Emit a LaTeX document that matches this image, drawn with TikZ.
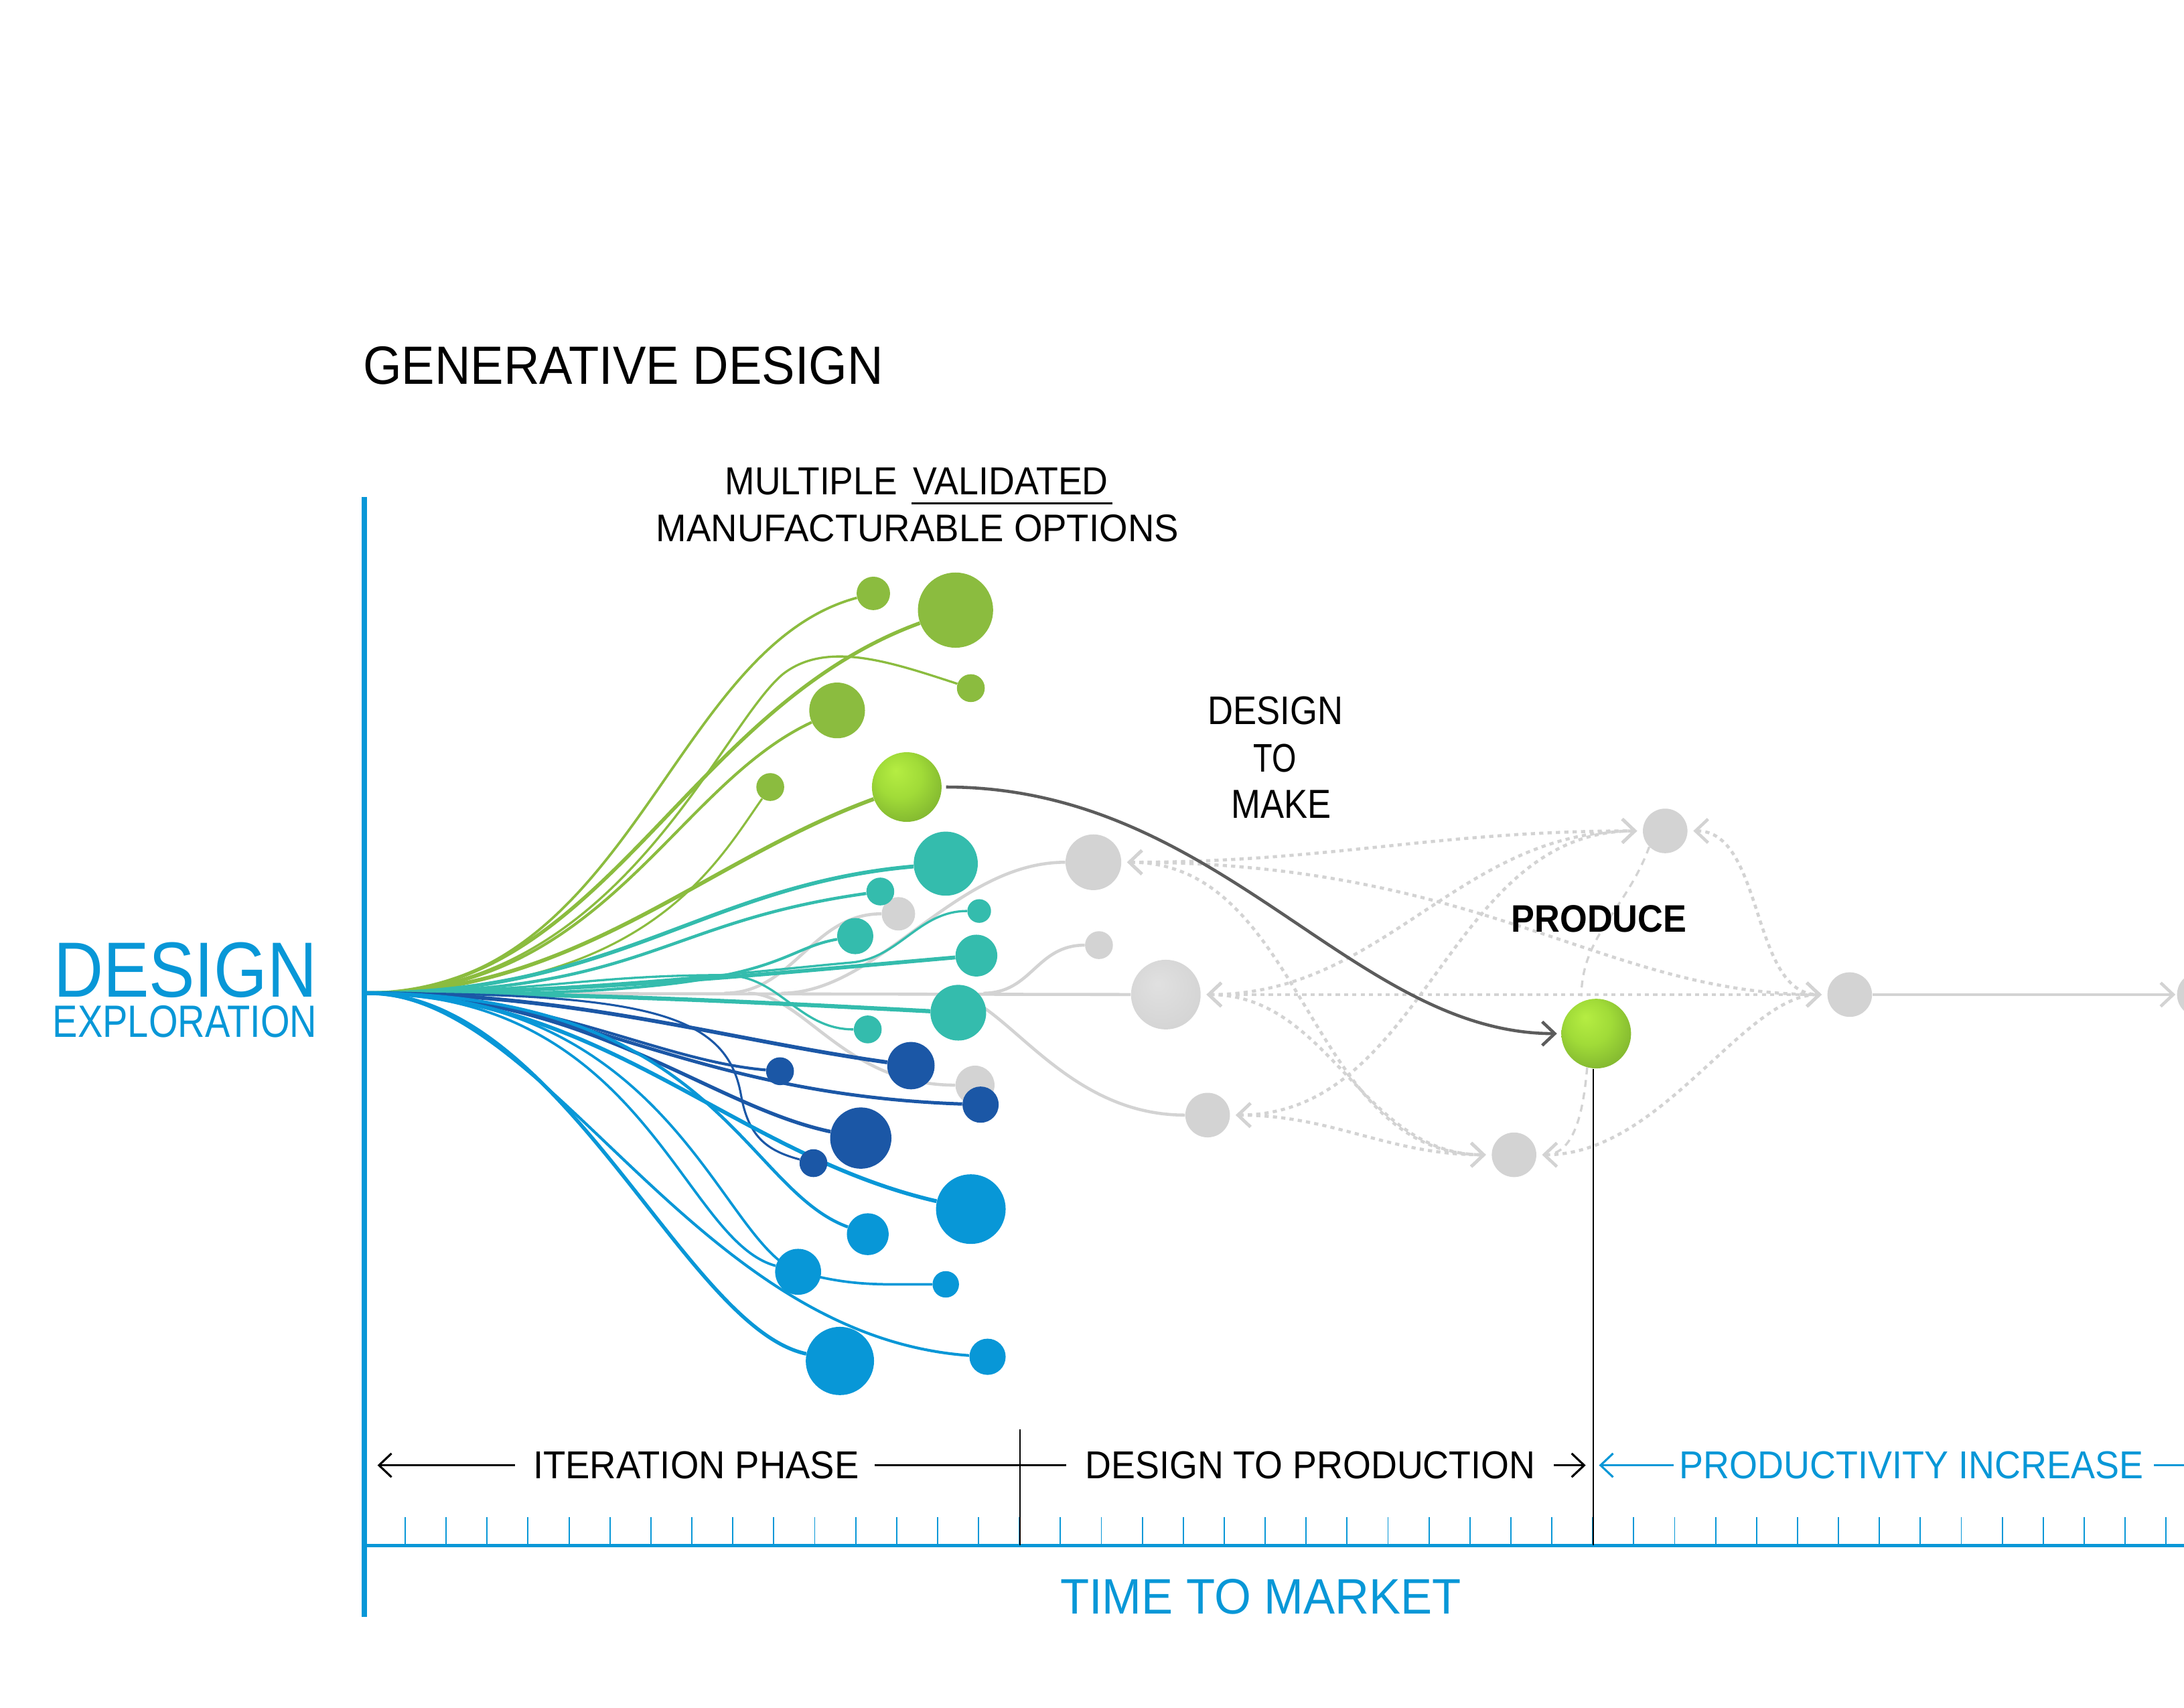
\documentclass[tikz,border=0pt]{standalone}
\usepackage{fontspec}
\setmainfont{Liberation Sans}
\usepackage{graphicx}
\usetikzlibrary{arrows.meta}

\definecolor{gdgreen}{HTML}{8BBC3F}
\definecolor{gdteal}{HTML}{34BCAD}
\definecolor{gdnavy}{HTML}{1B57A6}
\definecolor{gdblue}{HTML}{0897D7}
\definecolor{gdgrey}{HTML}{D3D3D3}
\definecolor{gddark}{HTML}{5C5C5C}

\pgfdeclareradialshading{limeball}{\pgfpoint{-8bp}{12bp}}{%
  rgb(0bp)=(0.71,0.93,0.26);
  rgb(16bp)=(0.63,0.86,0.22);
  rgb(30bp)=(0.52,0.73,0.19);
  rgb(50bp)=(0.42,0.60,0.16)}
\pgfdeclareradialshading{greyball}{\pgfpoint{-6bp}{8bp}}{%
  rgb(0bp)=(0.88,0.88,0.88);
  rgb(25bp)=(0.84,0.84,0.84);
  rgb(50bp)=(0.80,0.80,0.80)}

\pgfdeclarelayer{back}
\pgfsetlayers{back,main}

\newcommand{\gdfit}[3]{\resizebox{#1pt}{#2pt}{#3}}

\begin{document}
\begin{tikzpicture}[x=1pt,y=1pt,
	>={Straight Barb[length=9pt,width=17pt]},
	bub/.style={circle,inner sep=0pt,minimum size=#1},
	txt/.style={inner sep=0pt,anchor=base west},
	greenline/.style={draw=gdgreen,line width=#1},
	tealline/.style={draw=gdteal,line width=#1},
	navyline/.style={draw=gdnavy,line width=#1},
	blueline/.style={draw=gdblue,line width=#1},
	greyline/.style={draw=gdgrey,line width=2.2pt},
	netline/.style={draw=gdgrey,line width=2.2pt,dash pattern=on 3pt off 3pt,shorten <=4pt,shorten >=4pt},
	dropline/.style={draw=gdgrey,line width=1.6pt,dash pattern=on 5pt off 4pt,shorten >=4pt},
	darkline/.style={draw=gddark,line width=2.2pt,shorten <=3pt,shorten >=3pt},
	rowline/.style={line width=1.5pt},
	tickmark/.style={draw=gdblue,line width=0.9pt}]
		\useasboundingbox (0,0) rectangle (1568,1226);

		% titles
		\node[txt] (title) at (260.5,950) {\gdfit{373.5}{27}{GENERATIVE DESIGN}};
		\node[txt] (mult) at (520.4,871) {\gdfit{123.6}{19.3}{MULTIPLE}};
		\node[txt] (vali) at (655.6,871) {\gdfit{139.8}{19.3}{VALIDATED}};
		\draw[line width=1.5pt] ([xshift=-1pt,yshift=-6.4pt]vali.base west) -- ([xshift=2.6pt,yshift=-6.4pt]vali.base east);
		\node[txt] (manu) at (471,837) {\gdfit{375}{19.3}{MANUFACTURABLE OPTIONS}};
		\node[txt,text=gdblue] (dsg) at (38.3,510.5) {\gdfit{189}{39.2}{DESIGN}};
		\node[txt,text=gdblue] (expl) at (37.7,481.5) {\gdfit{189.6}{22.7}{EXPLORATION}};
		\node[txt] (dtm1) at (867,706) {\gdfit{97}{20}{DESIGN}};
		\node[txt] (dtm2) at (899.7,672) {\gdfit{30.8}{20}{TO}};
		\node[txt] (dtm3) at (883.7,638.6) {\gdfit{71.7}{20}{MAKE}};
		\node[txt] (prod) at (1085,556.8) {\gdfit{125.7}{19.2}{\bfseries PRODUCE}};

		% time axis
		\draw[gdblue,line width=3.8pt] (261.5,869) -- (261.5,65.5);
		\draw[gdblue,line width=2.2pt] (261.5,116.5) -- (1580,116.5);
		\foreach \i in {1,...,44}
			\draw[tickmark] (261.5+29.4*\i,116.5) -- ++(0,20.5);
		\draw[line width=1.2pt] (732.3,200) -- (732.3,116.5);

		\node[txt] (iter) at (382.6,164.5) {\gdfit{233.9}{19.5}{ITERATION PHASE}};
		\node[txt] (d2p) at (779,164.5) {\gdfit{323}{19.5}{DESIGN TO PRODUCTION}};
		\node[txt,text=gdblue] (incr) at (1205.7,164.5) {\gdfit{332.8}{19.5}{PRODUCTIVITY INCREASE}};
		\node[txt,text=gdblue] (ttm) at (761,67.4) {\gdfit{288}{25}{TIME TO MARKET}};
		\draw[rowline,->] ([xshift=-12.8pt]iter.west) -- ([xshift=-111.6pt]iter.west);
		\draw[rowline] ([xshift=11pt]iter.east) -- ([xshift=-13.6pt]d2p.west);
		\draw[rowline,->] ([xshift=13pt]d2p.east) -- ([xshift=36pt]d2p.east);
		\draw[rowline,gdblue,->] ([xshift=-4.2pt]incr.west) -- ([xshift=-57.7pt]incr.west);
		\draw[rowline,gdblue] ([xshift=7.5pt]incr.east) -- ([xshift=40pt]incr.east);

		% options
		\coordinate (o) at (263,513);
		\node[bub=24pt,fill=gdgreen] (g1) at (627,800) {};
		\node[bub=54pt,fill=gdgreen] (g2) at (686,788) {};
		\node[bub=20pt,fill=gdgreen] (g3) at (697,732) {};
		\node[bub=40pt,fill=gdgreen] (g4) at (601,716) {};
		\node[bub=20pt,fill=gdgreen] (g5) at (553,661) {};
		\node[bub=50pt,shading=limeball] (gm) at (651,661) {};
		\node[bub=46pt,fill=gdteal] (t1) at (679,606) {};
		\node[bub=24pt,fill=gdgrey] (k1) at (645,570) {};
		\node[bub=20pt,fill=gdteal] (t2) at (632,586) {};
		\node[bub=17pt,fill=gdteal] (t3) at (703,572) {};
		\node[bub=26pt,fill=gdteal] (t4) at (614,554) {};
		\node[bub=30pt,fill=gdteal] (t5) at (701,540) {};
		\node[bub=40pt,fill=gdteal] (t6) at (688,499) {};
		\node[bub=20pt,fill=gdteal] (t7) at (623,487) {};
		\node[bub=34pt,fill=gdnavy] (d1) at (654,461) {};
		\node[bub=20pt,fill=gdnavy] (d2) at (560,457) {};
		\node[bub=28pt,fill=gdgrey] (k2) at (700,447) {};
		\node[bub=26pt,fill=gdnavy] (d3) at (704,433) {};
		\node[bub=44pt,fill=gdnavy] (d4) at (618,409) {};
		\node[bub=20pt,fill=gdnavy] (d5) at (584,391) {};
		\node[bub=50pt,fill=gdblue] (b1) at (697,358) {};
		\node[bub=30pt,fill=gdblue] (b2) at (623,340) {};
		\node[bub=33pt,fill=gdblue] (b3) at (573,313) {};
		\node[bub=19pt,fill=gdblue] (b4) at (679,304) {};
		\node[bub=49pt,fill=gdblue] (b5) at (603,249) {};
		\node[bub=26pt,fill=gdblue] (b6) at (709,252) {};

		% make and produce
		\node[bub=40pt,fill=gdgrey] (m1) at (785,607) {};
		\node[bub=20pt,fill=gdgrey] (m1b) at (789,547.5) {};
		\node[bub=50pt,shading=greyball] (m2) at (837,512) {};
		\node[bub=32pt,fill=gdgrey] (m3) at (867,425.5) {};
		\node[bub=32pt,fill=gdgrey] (n1) at (1195.5,629.5) {};
		\node[bub=32pt,fill=gdgrey] (n2) at (1087,397) {};
		\node[bub=32pt,fill=gdgrey] (r1) at (1328,512) {};
		\node[bub=32pt,fill=gdgrey] (r2) at (1579,512) {};
		\node[bub=50pt,shading=limeball] (pr) at (1146,484) {};
		\draw[line width=1.2pt] ([xshift=-2pt]pr.south) -- ([xshift=-2pt]pr.south |- 0,116.5);

		\coordinate (sk1) at (520,513);
		\coordinate (sm1) at (561,513);
		\coordinate (sm1b) at (706,513);
		\coordinate (sk2) at (537,513);
		\coordinate (sm3) at (680,513);
		\coordinate (gsplit) at (562,742);
		\coordinate (tsplit) at (611,535);
		\coordinate (tbend) at (520,526);
		\coordinate (dbend) at (532,440);

		\begin{pgfonlayer}{back}
		\draw[greyline] (o) -- (m2);
		\draw[greyline] (sk1) to[out=0,in=180,out distance=50,in distance=50] (k1);
		\draw[greyline] (sm1) to[out=0,in=180,out distance=70,in distance=80] (m1);
		\draw[greyline] (sm1b) to[out=0,in=180,out distance=35,in distance=35] (m1b);
		\draw[greyline] (sk2) to[out=0,in=180,out distance=40,in distance=80] (k2);
		\draw[greyline] (sm3) to[out=0,in=180,out distance=40,in distance=90] (m3);

		\draw[netline,<->] (m1) to[out=0,in=180,out distance=150,in distance=150] (n1);
		\draw[netline,<->] (m1) to[out=0,in=180,out distance=260,in distance=160] (r1);
		\draw[netline,<->] (m2) -- (r1);
		\draw[netline,<->] (m2) to[out=0,in=180] (n1);
		\draw[netline,<->] (m3) to[out=0,in=180] (n1);
		\draw[netline,<->] (m2) to[out=0,in=180] (n2);
		\draw[netline,<->] (m1) to[out=0,in=180] (n2);
		\draw[netline,<->] (m3) to[out=0,in=180] (n2);
		\draw[netline,<->] (n1) to[out=0,in=180,out distance=55,in distance=55] (r1);
		\draw[netline,<->] (n2) to[out=0,in=180,out distance=90,in distance=60] (r1);
		\draw[dropline] (n1.225) to[out=250,in=90] (pr.115);
		\draw[dropline,->] (pr.255) to[out=265,in=0] (n2);
		\draw[greyline,->,shorten >=1pt] (r1) -- (r2);

		\draw[greenline=1.8pt] (o) to[out=0,in=195,out distance=190,in distance=140] (g1);
		\draw[greenline=2.6pt] (o) to[out=0,in=200,out distance=170,in distance=180] (g2);
		\draw[greenline=1.6pt] (o) to[out=0,in=220,out distance=180,in distance=60] (gsplit)
			to[out=38,in=162,out distance=40,in distance=50] (g3);
		\draw[greenline=2pt] (o) to[out=0,in=205,out distance=170,in distance=110] (g4);
		\draw[greenline=1.5pt] (o) to[out=0,in=235,out distance=200,in distance=60] (g5);
		\draw[greenline=2.8pt] (o) to[out=0,in=200,out distance=150,in distance=130] (gm);

		\draw[tealline=2.8pt] (o) to[out=0,in=185,out distance=180,in distance=150] (t1);
		\draw[tealline=2.2pt] (o) to[out=0,in=188,out distance=200,in distance=150] (t2);
		\draw[tealline=1.6pt] (o) to[out=0,in=185,out distance=150,in distance=60] (tsplit)
			to[out=5,in=180,out distance=35,in distance=35] (t3);
		\draw[tealline=2pt] (o) to[out=-1,in=190,out distance=300,in distance=50] (t4);
		\draw[tealline=2.8pt] (o) to[out=0,in=185,out distance=150,in distance=150] (t5);
		\draw[tealline=3pt] (o) to[out=0,in=177,out distance=150,in distance=150] (t6);
		\draw[tealline=1.6pt] (o) to[out=0,in=180,out distance=120,in distance=100] (tbend)
			to[out=0,in=180,out distance=40,in distance=40] (t7);

		\draw[navyline=2.8pt] (o) to[out=0,in=172,out distance=150,in distance=120] (d1);
		\draw[navyline=2pt] (o) to[out=0,in=175,out distance=130,in distance=80] (d2);
		\draw[navyline=2.4pt] (o) to[out=0,in=178,out distance=150,in distance=200] (d3);
		\draw[navyline=2.6pt] (o) to[out=0,in=168,out distance=160,in distance=90] (d4);
		\draw[navyline=1.5pt] (o) to[out=0,in=100,out distance=200,in distance=60] (dbend)
			to[out=-80,in=165,out distance=30,in distance=25] (d5);

		\draw[blueline=2.8pt] (o) to[out=0,in=167,out distance=170,in distance=150] (b1);
		\draw[blueline=2.2pt] (o) to[out=0,in=160,out distance=250,in distance=80] (b2);
		\draw[blueline=1.8pt] (o) to[out=0,in=165,out distance=200,in distance=70] (b3);
		\draw[blueline=1.8pt] (o) to[out=0,in=160,out distance=220,in distance=60] (b3.center)
			to[out=-15,in=180,out distance=40,in distance=40] (b4);
		\draw[blueline=2.6pt] (o) to[out=0,in=168,out distance=140,in distance=90] (b5);
		\draw[blueline=2pt] (o) to[out=0,in=176,out distance=130,in distance=200] (b6);

		\draw[darkline,->] (gm) to[out=0,in=180,out distance=200,in distance=150] (pr);
		\end{pgfonlayer}
\end{tikzpicture}
\end{document}
